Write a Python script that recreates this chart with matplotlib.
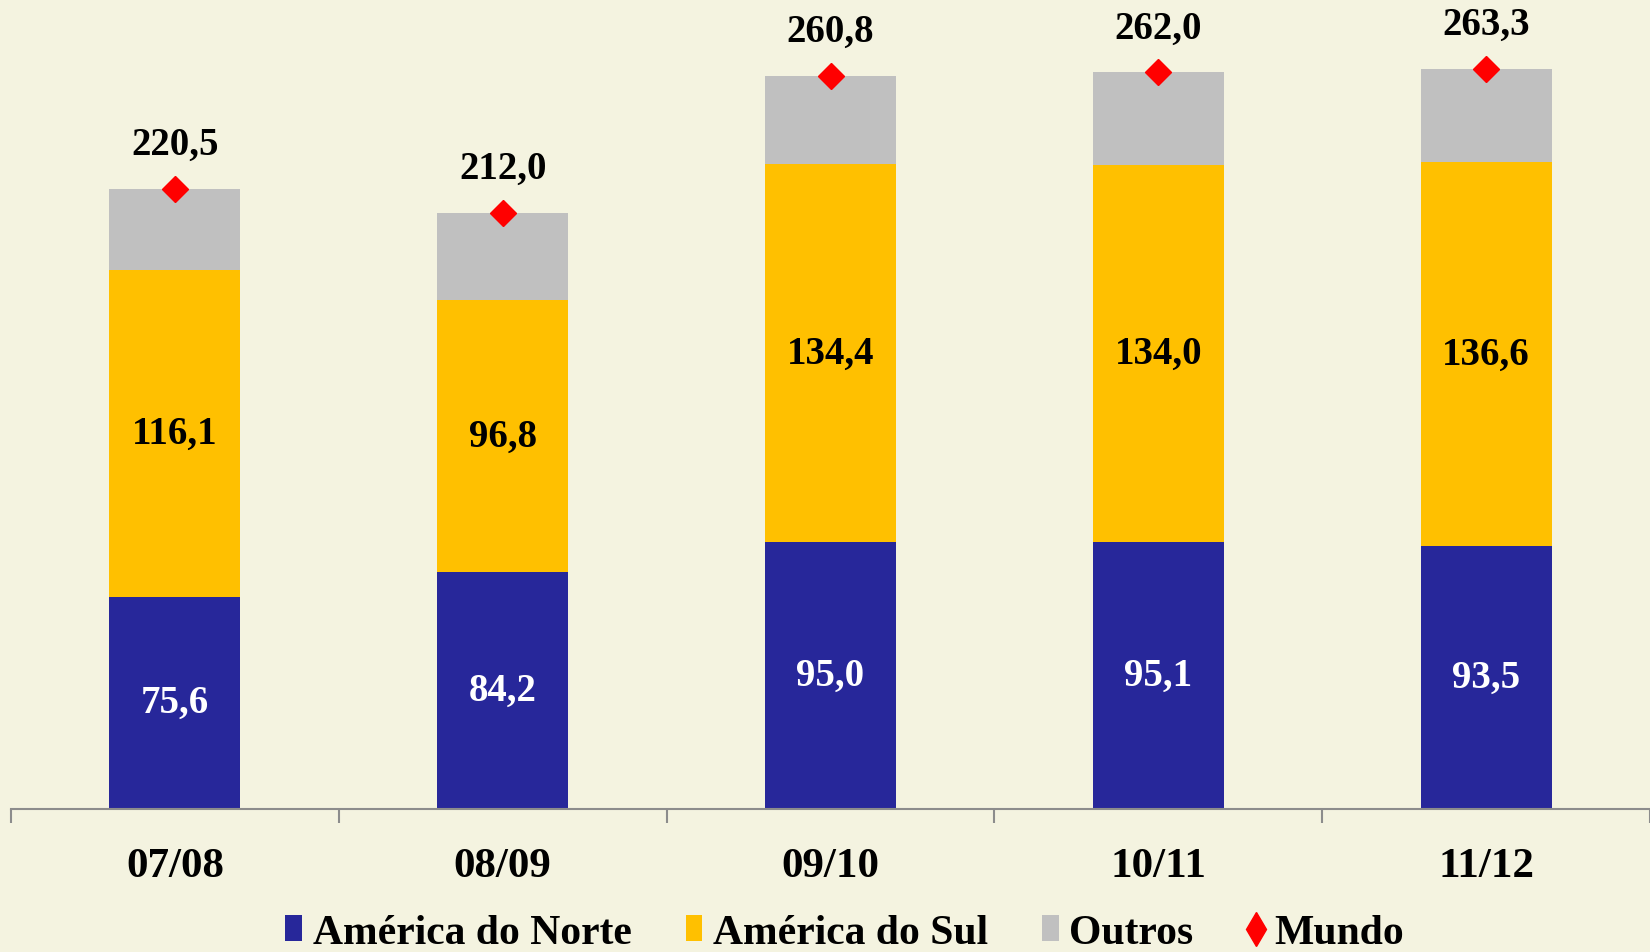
import matplotlib.pyplot as plt
from matplotlib.patches import Patch
from matplotlib.lines import Line2D
import numpy as np

# safra, values (milhões de t)
safras = ['07/08', '08/09', '09/10', '10/11', '11/12']
america_norte = [75.6, 84.2, 95.0, 95.1, 93.5]
america_sul = [116.1, 96.8, 134.4, 134.0, 136.6]
mundo = [220.5, 212.0, 260.8, 262.0, 263.3]
outros = [m - n - s for m, n, s in zip(mundo, america_norte, america_sul)]

c_norte = '#27279A'
c_sul = '#FFC000'
c_outros = '#C0C0C0'
c_mundo = '#FF0000'
bg = '#F4F3E0'

plt.rcParams['font.family'] = ['Liberation Serif', 'DejaVu Serif']
plt.rcParams['font.weight'] = 'bold'

fig = plt.figure(figsize=(16.5, 9.53), dpi=100, facecolor=bg)
ax = fig.add_axes([11 / 1650, 0.150, 1 - 11 / 1650, 0.826])
ax.set_facecolor(bg)

x = np.arange(len(safras))
w = 0.40
ax.bar(x, america_norte, w, color=c_norte, zorder=2)
ax.bar(x, america_sul, w, bottom=america_norte, color=c_sul, zorder=2)
base2 = [a + b for a, b in zip(america_norte, america_sul)]
ax.bar(x, outros, w, bottom=base2, color=c_outros, zorder=2)
ax.plot(x, mundo, linestyle='none', marker='D', markersize=13.5,
        color=c_mundo, zorder=3)

def fmt(v):
    return f'{v:.1f}'.replace('.', ',')

for i in range(len(x)):
    ax.text(x[i], america_norte[i] / 2, fmt(america_norte[i]), ha='center', va='center',
            color='white', fontsize=28, fontweight='bold')
    ax.text(x[i], america_norte[i] + america_sul[i] / 2, fmt(america_sul[i]),
            ha='center', va='center', color='black', fontsize=28, fontweight='bold')
    ax.annotate(fmt(mundo[i]), (x[i], mundo[i]), xytext=(0, 32), textcoords='offset points',
                ha='center', va='center', color='black', fontsize=28, fontweight='bold')

ax.set_xlim(-0.5, 4.452)
ax.set_ylim(0, 280)

for s in ['top', 'right', 'left']:
    ax.spines[s].set_visible(False)
ax.spines['bottom'].set_color('#8C8C8C')
ax.spines['bottom'].set_linewidth(1.5)
ax.set_yticks([])
ax.set_xticks(x)
ax.set_xticklabels(safras, fontsize=31, fontweight='bold')
ax.tick_params(axis='x', which='major', length=0, pad=27)
ax.set_xticks(np.arange(-0.5, 4.6, 1.0), minor=True)
ax.tick_params(axis='x', which='minor', length=10, width=1.5, color='#8C8C8C')

handles = [
    Patch(facecolor=c_norte, label='América do Norte'),
    Patch(facecolor=c_sul, label='América do Sul'),
    Patch(facecolor=c_outros, label='Outros'),
    Line2D([], [], linestyle='none', marker='d', markersize=17, color=c_mundo, label='Mundo'),
]
fig.legend(handles=handles, loc='center', bbox_to_anchor=(0.512, 0.02), ncol=4,
           frameon=False, handlelength=0.4, handleheight=0.6,
           handletextpad=0.25, columnspacing=1.3,
           prop={'weight': 'bold', 'size': 30})

fig.savefig('out.png', dpi=100, facecolor=bg)
